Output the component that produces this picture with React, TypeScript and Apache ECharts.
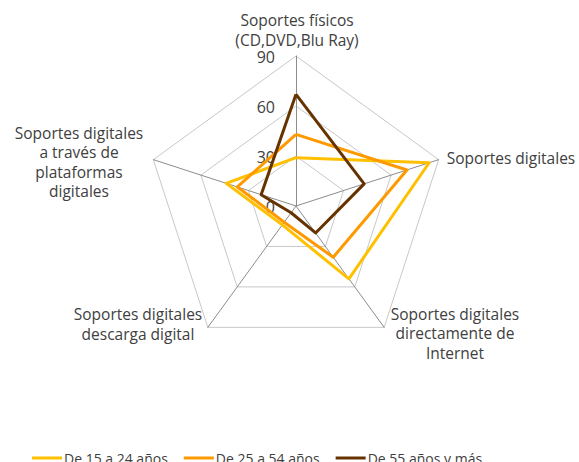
import React, { useEffect, useRef } from "react";
import * as echarts from "echarts";

const indicators = [
  "Soportes físicos\n(CD,DVD,Blu Ray)",
  "Soportes digitales",
  "Soportes digitales\ndirectamente de\nInternet",
  "Soportes digitales\ndescarga digital",
  "Soportes digitales\na través de\nplataformas\ndigitales",
];
const seriesNames = ["De 15 a 24 años", "De 25 a 54 años", "De 55 años y más"];
const young = [29, 84, 54, 14, 44];
const middle = [43, 70, 38, 12, 37];
const senior = [67, 43, 20, 5, 22];
const tickLabels = [0, 30, 60, 90];
const colors = ["#FFC000", "#FF9900", "#663300"];

const CX = 296;
const CY = 206;
const R = 150;
const MAX = 90;
const FONT = "'Open Sans', sans-serif";

// ECharts lays radar axes counter-clockwise; the reference goes clockwise.
const order = [0, 4, 3, 2, 1];
const reorder = (arr: any[]) => order.map((i) => arr[i]);

export default function App() {
  const ref = useRef<HTMLDivElement>(null);
  useEffect(() => {
    document.body.style.margin = "0";
    if (!ref.current) return;
    const chart = echarts.init(ref.current, undefined, { renderer: "svg" });
    const labelPos = [
      { x: 297, y: 30 },
      { x: 511, y: 158 },
      { x: 455, y: 333 },
      { x: 138, y: 324 },
      { x: 79, y: 162 },
    ];
    const graphics: any[] = indicators.map((name, i) => ({
      type: "text",
      x: labelPos[i].x,
      y: labelPos[i].y,
      style: {
        text: name,
        fill: "#404040",
        font: `15.5px ${FONT}`,
        align: "center",
        verticalAlign: "middle",
        lineHeight: 19.5,
      },
      silent: true,
    }));
    tickLabels.forEach((t) => {
      graphics.push({
        type: "text",
        x: 275,
        y: CY - (R * t) / MAX + 1,
        style: {
          text: String(t),
          fill: "#404040",
          font: `16px ${FONT}`,
          align: "right",
          verticalAlign: "middle",
        },
        silent: true,
      });
    });
    chart.setOption({
      animation: false,
      backgroundColor: "#ffffff",
      color: colors,
      legend: {
        data: seriesNames,
        left: 27,
        top: 446,
        icon: "rect",
        itemWidth: 30,
        itemHeight: 3,
        itemGap: 16,
        textStyle: { color: "#404040", fontSize: 14, fontFamily: FONT, padding: [0, 0, 0, -3] },
      },
      radar: {
        center: [CX, CY],
        radius: R,
        shape: "polygon",
        splitNumber: 3,
        startAngle: 90,
        indicator: reorder(indicators).map((n) => ({ name: n, min: 0, max: MAX })),
        axisName: { show: false },
        splitArea: { show: false },
        splitLine: { lineStyle: { color: "#c8c8c8", width: 1 } },
        axisLine: { lineStyle: { color: "#8c8c8c", width: 1 } },
      },
      graphic: graphics,
      series: [
        {
          type: "radar",
          symbol: "none",
          data: [
            { name: seriesNames[0], value: reorder(young), lineStyle: { color: colors[0], width: 3 } },
            { name: seriesNames[1], value: reorder(middle), lineStyle: { color: colors[1], width: 3 } },
            { name: seriesNames[2], value: reorder(senior), lineStyle: { color: colors[2], width: 3 } },
          ],
        },
      ],
    });
    return () => chart.dispose();
  }, []);
  return <div ref={ref} style={{ width: 579, height: 462 }} />;
}
